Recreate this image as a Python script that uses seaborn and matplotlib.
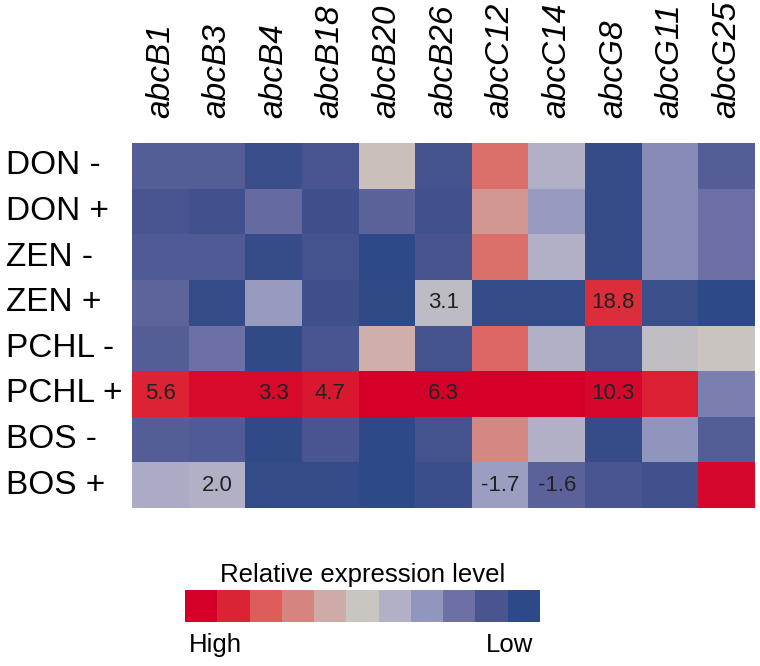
import numpy as np
import pandas as pd
import matplotlib
matplotlib.use('Agg')
import matplotlib.pyplot as plt
import seaborn as sns
from matplotlib.colors import LinearSegmentedColormap, ListedColormap

# genes (columns) and treatments (rows)
genes = ['abcB1', 'abcB3', 'abcB4', 'abcB18', 'abcB20', 'abcB26',
         'abcC12', 'abcC14', 'abcG8', 'abcG11', 'abcG25']
treatments = ['DON -', 'DON +', 'ZEN -', 'ZEN +', 'PCHL -', 'PCHL +', 'BOS -', 'BOS +']

# relative level, 0 = low (blue) .. 10 = high (red)
don_minus = [1.3, 1.3, 0.4, 1.0, 5.2, 0.8, 7.5, 4.0, 0.3, 2.7, 1.3]
don_plus = [1.0, 0.7, 1.8, 0.6, 1.5, 0.7, 6.5, 3.2, 0.3, 2.7, 2.0]
zen_minus = [1.2, 1.2, 0.3, 0.8, 0.0, 0.9, 7.5, 4.0, 0.3, 2.7, 2.0]
zen_plus = [1.6, 0.2, 3.2, 0.6, 0.1, 4.5, 0.2, 0.2, 8.8, 0.5, 0.0]
pchl_minus = [1.3, 2.0, 0.1, 1.0, 5.8, 0.8, 7.7, 4.0, 0.8, 4.6, 5.0]
pchl_plus = [9.0, 9.7, 9.7, 9.3, 10.0, 10.0, 10.0, 10.0, 9.8, 9.1, 2.4]
bos_minus = [1.3, 1.2, 0.1, 1.0, 0.0, 0.8, 6.9, 4.0, 0.3, 3.0, 1.3]
bos_plus = [3.8, 4.0, 0.2, 0.2, 0.0, 0.4, 3.3, 1.5, 1.0, 0.7, 9.8]

# fold-change labels printed in some cells
lab_zen_plus = ['', '', '', '', '', '3.1', '', '', '18.8', '', '']
lab_pchl_plus = ['5.6', '', '3.3', '4.7', '', '6.3', '', '', '10.3', '', '']
lab_bos_plus = ['', '2.0', '', '', '', '', '-1.7', '-1.6', '', '', '']

# colour steps of the legend, high -> low
legend_colors = ['#d5002a', '#db2433', '#de5c5a', '#d5847f', '#cfaaa6', '#c9c5c0',
                 '#b1b0c6', '#9196bf', '#6c70a4', '#4a5590', '#2e4987']

levels = pd.DataFrame([don_minus, don_plus, zen_minus, zen_plus,
                       pchl_minus, pchl_plus, bos_minus, bos_plus],
                      index=treatments, columns=genes)
blank = [''] * len(genes)
labels = pd.DataFrame([blank, blank, blank, lab_zen_plus,
                       blank, lab_pchl_plus, blank, lab_bos_plus],
                      index=treatments, columns=genes)

cmap = LinearSegmentedColormap.from_list('rb', legend_colors[::-1])
fam = ['Liberation Sans', 'DejaVu Sans']

fig = plt.figure(figsize=(7.6, 6.66), dpi=100)
ax = fig.add_axes([0.1737, 0.2372, 0.8197, 0.5481])
sns.heatmap(levels, ax=ax, cmap=cmap, vmin=0, vmax=10, cbar=False,
            annot=labels, fmt='', annot_kws={'size': 16, 'color': '#222222', 'family': fam})
ax.xaxis.tick_top()
ax.tick_params(axis='both', length=0)
ax.tick_params(axis='x', pad=18)
ax.tick_params(axis='y', pad=91)
ax.set_xticklabels(genes, rotation=90, fontsize=24, style='italic', family=fam)
ax.set_yticklabels(treatments, rotation=0, fontsize=24, family=fam, ha='left')
ax.set_xlabel('')
ax.set_ylabel('')

# legend bar
cax = fig.add_axes([0.2434, 0.066, 0.467, 0.048])
bar = pd.DataFrame([list(range(len(legend_colors)))])
sns.heatmap(bar, ax=cax, cmap=ListedColormap(legend_colors), cbar=False,
            xticklabels=False, yticklabels=False)
cax.set_title('Relative expression level', fontsize=18.5, pad=6, family=fam)
cax.text(0.01, -0.35, 'High', transform=cax.transAxes, ha='left', va='top', fontsize=18.5,
         family=fam)
cax.text(0.98, -0.35, 'Low', transform=cax.transAxes, ha='right', va='top', fontsize=18.5,
         family=fam)

fig.savefig('out.png', dpi=100, facecolor='white')
